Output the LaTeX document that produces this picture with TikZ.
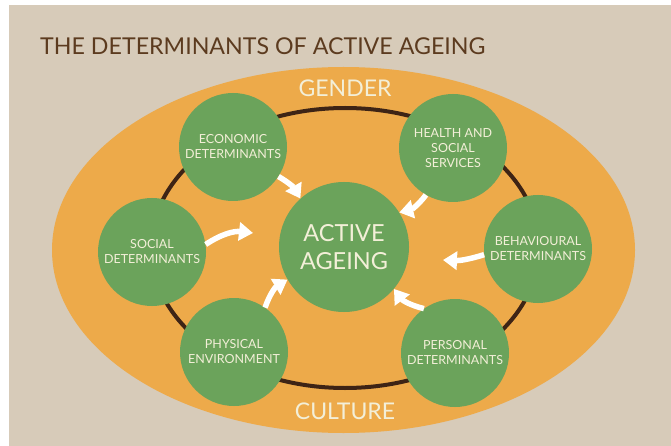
\documentclass[tikz,border=0pt]{standalone}
\usepackage{fontspec}
\setmainfont{Lato}
\usetikzlibrary{arrows.meta,calc}
\definecolor{bgbeige}{HTML}{D7CBB9}
\definecolor{ovorange}{HTML}{EDAA4A}
\definecolor{circgreen}{HTML}{6BA35B}
\definecolor{ringbrown}{HTML}{3E2415}
\definecolor{titlebrown}{HTML}{5C3B1F}
\definecolor{creamtext}{HTML}{F3EFD8}
\tikzset{
  detcircle/.style={circle,fill=circgreen,minimum size=108pt,inner sep=0pt,text=creamtext,align=center,font=\fontsize{12.5}{15}\selectfont},
  maincircle/.style={circle,fill=circgreen,minimum size=130pt,inner sep=0pt,text=creamtext,align=center,font=\fontsize{23.5}{28}\selectfont},
  labeltext/.style={text=creamtext,font=\fontsize{23}{26}\selectfont,inner sep=0pt},
  whitearrow/.style={draw=white,line width=5.5pt,-{Triangle[width=18pt,length=14pt]}},
}
\begin{document}
\begin{tikzpicture}[x=1pt,y=-1pt]
\useasboundingbox (0,0) rectangle (671,446);
\fill[white] (0,0) rectangle (671,446);
\fill[bgbeige] (9,5) rectangle (671,446);
\node[anchor=base west,text=titlebrown,font=\fontsize{23.2}{26}\selectfont,inner sep=0pt] (title) at (40,55) {THE DETERMINANTS OF ACTIVE AGEING};
\fill[ovorange] (343.5,250) ellipse [x radius=291.5pt, y radius=183pt];
\draw[ringbrown,line width=4pt] (345,248) ellipse [x radius=194pt, y radius=140pt];
\node[labeltext,anchor=base] (gender) at (345,97) {GENDER};
\node[labeltext,anchor=base] (culture) at (345,419) {CULTURE};
\node[maincircle] (active) at (344,247) {ACTIVE\\AGEING};
\node[detcircle] (econ) at (233,147) {ECONOMIC\\DETERMINANTS};
\node[detcircle] (health) at (453,148) {HEALTH AND\\SOCIAL\\SERVICES};
\node[detcircle] (social) at (152,252) {SOCIAL\\DETERMINANTS};
\node[detcircle] (behav) at (538,249) {BEHAVIOURAL\\DETERMINANTS};
\node[detcircle] (phys) at (234,352) {PHYSICAL\\ENVIRONMENT};
\node[detcircle] (pers) at (455,353) {PERSONAL\\DETERMINANTS};
\coordinate (sTip) at (253,233);
\coordinate (bTip) at (443,260);
\draw[whitearrow] (econ.-33) to[bend left=15] (active.132);
\draw[whitearrow] (health.-120) to[bend left=20] (active.32);
\draw[whitearrow] (social.8) to[bend left=20] (sTip);
\draw[whitearrow] (phys.55) to[bend left=20] (active.-150);
\draw[whitearrow] (behav.-174) to[bend left=10] (bTip);
\draw[whitearrow] (pers.125) to[bend left=20] (active.-40);
\end{tikzpicture}
\end{document}
